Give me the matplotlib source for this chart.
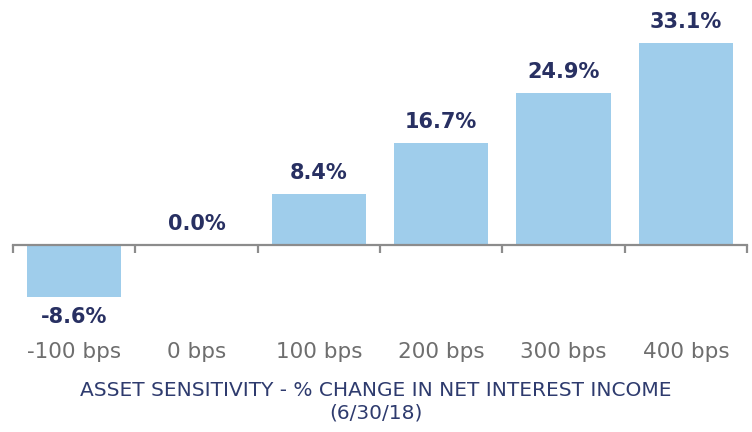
import matplotlib.pyplot as plt

# rate shock scenarios and resulting change in net interest income (%)
scenarios = ["-100 bps", "0 bps", "100 bps", "200 bps", "300 bps", "400 bps"]
nii_change = [-8.6, 0.0, 8.4, 16.7, 24.9, 33.1]

bar_color = "#9fcdeb"
label_color = "#283062"
tick_color = "#6e6e6e"

fig = plt.figure(figsize=(7.52, 4.32), dpi=100, facecolor="w")
ax = fig.add_axes([13 / 752, (432 - 310) / 432, 734 / 752, 300 / 432])

x = list(range(len(scenarios)))
ax.bar(x, nii_change, width=0.77, color=bar_color, zorder=2)

ax.set_xlim(-0.5, len(scenarios) - 0.5)
ax.set_ylim(-10.66, 38.5)

# axis line drawn through zero, tick marks between categories
for side in ["top", "right", "left"]:
    ax.spines[side].set_visible(False)
ax.spines["bottom"].set_position(("data", 0))
ax.spines["bottom"].set_color("#8c8c8c")
ax.spines["bottom"].set_linewidth(1.6)
ax.set_yticks([])
ax.set_xticks([i - 0.5 for i in range(len(scenarios) + 1)])
ax.set_xticklabels([])
ax.tick_params(axis="x", direction="out", length=6, width=1.6, color="#8c8c8c")

for xi, v in zip(x, nii_change):
    if v >= 0:
        ax.annotate(f"{v:.1f}%", (xi, v), xytext=(0, 8), textcoords="offset points",
                    ha="center", va="bottom", fontsize=15, fontweight="bold",
                    color=label_color, family="DejaVu Sans")
    else:
        ax.annotate(f"{v:.1f}%", (xi, v), xytext=(0, -7), textcoords="offset points",
                    ha="center", va="top", fontsize=15, fontweight="bold",
                    color=label_color, family="DejaVu Sans")
    ax.text(xi, -0.14, scenarios[xi], transform=ax.get_xaxis_transform(),
            ha="center", va="center", fontsize=15.5, color=tick_color, family="DejaVu Sans")

fig.text(0.5, 1 - 390 / 432, "ASSET SENSITIVITY - % CHANGE IN NET INTEREST INCOME",
         ha="center", va="center", fontsize=14.5, color="#2e3b6e", family="DejaVu Sans")
fig.text(0.5, 1 - 413 / 432, "(6/30/18)",
         ha="center", va="center", fontsize=14.5, color="#2e3b6e", family="DejaVu Sans")

fig.savefig("out.png", dpi=100)
